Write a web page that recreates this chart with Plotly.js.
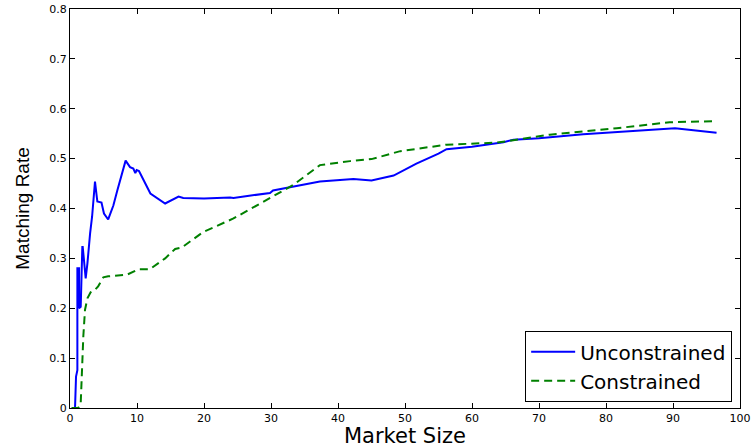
<!DOCTYPE html>
<html>
<head>
<meta charset="utf-8">
<script src="https://cdn.plot.ly/plotly-3.0.1.min.js"></script>
<style>html,body{margin:0;padding:0;background:#fff;}#chart{width:753px;height:448px;}</style>
</head>
<body>
<div id="chart"></div>
<script>
// Market size (x) and matching rate (y)
const unconstrainedX = [0.25, 0.75, 0.9, 1.1, 1.1, 1.35, 1.35, 1.6, 1.84, 1.9, 2.34, 2.6, 3.0, 3.3, 3.73, 4.08, 4.7, 5.07, 5.7, 6.47, 7.06, 8.3, 8.96, 9.45, 9.75, 9.95, 10.3, 11.2, 12.0, 14.2, 16.2, 16.9, 20, 23.9, 24.4, 27, 29.85, 30.3, 34.3, 37.3, 42.3, 45.0, 48.3, 51.7, 55.0, 56.2, 60, 64.7, 66.2, 70, 76.6, 83, 90.3, 96.5];
const unconstrainedY = [0, 0, 0.063, 0.076, 0.28, 0.28, 0.20, 0.203, 0.323, 0.323, 0.26, 0.29, 0.35, 0.384, 0.454, 0.414, 0.412, 0.39, 0.378, 0.406, 0.436, 0.496, 0.483, 0.48, 0.471, 0.477, 0.475, 0.45, 0.43, 0.41, 0.424, 0.421, 0.42, 0.422, 0.421, 0.426, 0.431, 0.436, 0.446, 0.454, 0.459, 0.456, 0.466, 0.49, 0.51, 0.519, 0.524, 0.533, 0.538, 0.541, 0.549, 0.554, 0.561, 0.552];
const constrainedX = [0.25, 1.24, 1.6, 1.74, 1.99, 2.24, 2.6, 3.08, 3.73, 4.2, 4.98, 5.7, 8.45, 10.2, 11.9, 14.2, 15.7, 16.7, 19.9, 24.4, 29.4, 33.3, 37.3, 41.8, 45, 49.3, 56.2, 63.7, 71.6, 81.6, 89.5, 96];
const constrainedY = [0, 0, 0.01, 0.063, 0.144, 0.197, 0.22, 0.232, 0.237, 0.244, 0.262, 0.264, 0.267, 0.278, 0.278, 0.3, 0.319, 0.322, 0.353, 0.38, 0.417, 0.447, 0.487, 0.495, 0.499, 0.515, 0.528, 0.532, 0.548, 0.561, 0.573, 0.575];
const seriesNames = ["Unconstrained", "Constrained"];
const xTickVals = [0, 10, 20, 30, 40, 50, 60, 70, 80, 90, 100];
const yTickVals = [0, 0.1, 0.2, 0.3, 0.4, 0.5, 0.6, 0.7, 0.8];
const yTickText = ["0", "0.1", "0.2", "0.3", "0.4", "0.5", "0.6", "0.7", "0.8"];

const traces = [
  {x: unconstrainedX, y: unconstrainedY, name: seriesNames[0], type: 'scatter', mode: 'lines',
   line: {color: '#0000ff', width: 2}},
  {x: constrainedX, y: constrainedY, name: seriesNames[1], type: 'scatter', mode: 'lines',
   line: {color: '#008000', width: 2, dash: '8px,5px'}}
];

const tickFont = {family: 'DejaVu Sans, sans-serif', size: 11, color: '#000'};
const layout = {
  width: 753, height: 448,
  margin: {l: 70, r: 13, t: 9, b: 40, pad: 0},
  paper_bgcolor: '#fff', plot_bgcolor: '#fff',
  showlegend: true,
  legend: {x: 0.988, y: 0.015, xanchor: 'right', yanchor: 'bottom',
           bgcolor: '#fff', bordercolor: '#000', borderwidth: 1.2,
           font: {family: 'DejaVu Sans, sans-serif', size: 20, color: '#000'},
           tracegroupgap: 0, itemwidth: 44},
  xaxis: {range: [0, 100], tickvals: xTickVals, ticks: 'inside', ticklen: 5, tickcolor: '#000',
          showline: true, linecolor: '#000', linewidth: 1, mirror: 'ticks', showgrid: false, zeroline: false,
          tickfont: tickFont,
          title: {text: 'Market Size', font: {family: 'DejaVu Sans, sans-serif', size: 21, color: '#000'}, standoff: 5}},
  yaxis: {range: [0, 0.8], tickvals: yTickVals, ticktext: yTickText, ticks: 'inside', ticklen: 5, tickcolor: '#000',
          showline: true, linecolor: '#000', linewidth: 1, mirror: 'ticks', showgrid: false, zeroline: false,
          tickfont: tickFont,
          title: {text: 'Matching Rate', font: {family: 'Liberation Sans, Arial, sans-serif', size: 19, color: '#000'}, standoff: 14}}
};

Plotly.newPlot('chart', traces, layout, {displayModeBar: false, staticPlot: true});
</script>
</body>
</html>
